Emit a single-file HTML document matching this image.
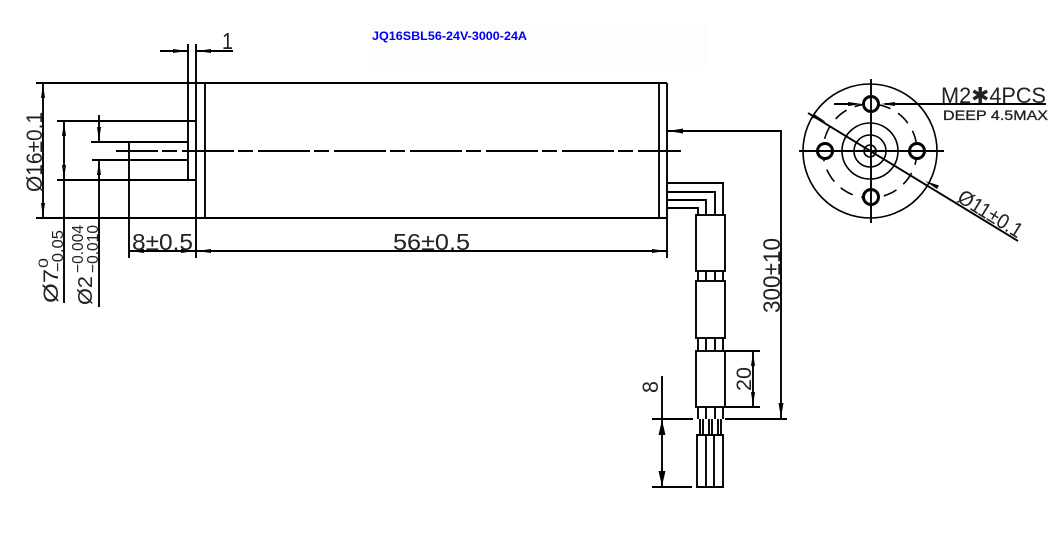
<!DOCTYPE html>
<html><head><meta charset="utf-8"><style>
html,body{margin:0;padding:0;background:#fff;width:1050px;height:537px;overflow:hidden}
svg{display:block}
.l{stroke:#000;stroke-width:1.900;fill:none}
.t{stroke:#000;stroke-width:1.600;fill:none}
.a{fill:#000;stroke:none}
text.c{font-family:"Liberation Sans","DejaVu Sans",sans-serif;fill:#222;font-weight:400}
</style></head><body>
<svg width="1050" height="537" viewBox="0 0 1050 537" xmlns="http://www.w3.org/2000/svg">
<rect x="370" y="24" width="337" height="41" fill="#fdfdfd"/>
<text x="372" y="40" font-family="'Liberation Sans',sans-serif" font-weight="700" font-size="12" fill="#0000f0" textLength="155" lengthAdjust="spacingAndGlyphs">JQ16SBL56-24V-3000-24A</text>

<!-- body -->
<path class="l" d="M36 83H667M36 218H667M188 44V180M196 44V258M205 83V218M659 83V218M667 83V258"/>
<path class="l" d="M57 121H196M57 180H196M91 142H188M92 160H188"/>
<path class="l" stroke-dasharray="52 4 15 5" stroke-dashoffset="10" d="M116 151H681"/>
<!-- left dims -->
<path class="l" d="M43 83V218M64 121V303M99 115V142M99 160V307M129 143V258"/>
<path class="a" d="M43 84l-2 14h4zM43 217l-2-14h4zM64 122l-2 14h4zM64 179l-2-14h4zM99 141l-2-14h4zM99 161l-2 14h4z"/>
<!-- top dim -->
<path class="l" d="M160 51H188M196 51H233"/>
<path class="a" d="M187 51l-14-2v4zM197 51l14-2v4z"/>
<!-- bottom dim -->
<path class="l" d="M129 251H667"/>
<path class="a" d="M130 251l14-2v4zM195 251l-14-2v4zM197 251l14-2v4zM666 251l-14-2v4z"/>
<!-- 300 dim -->
<path class="l" d="M667 131H781V419M725 419H787"/>
<path class="a" d="M668 131l15-2.500v5zM781 418l-2.500-15h5z"/>
<!-- wires -->
<path class="l" d="M667 183H723V215M667 192H715V215M667 200H706V215M667 208H698V215"/>
<rect class="l" x="696" y="215" width="29" height="56"/>
<rect class="l" x="696" y="281" width="29" height="57"/>
<rect class="l" x="696" y="351" width="29" height="56"/>
<path class="l" d="M698 271V281M706 271V281M715 271V281M723 271V281M698 338V351M706 338V351M715 338V351M723 338V351M698 407V419M706 407V419M715 407V419M723 407V419"/>
<path class="l" d="M700 419V435M703 419V435M709 419V435M712 419V435M718 419V435M721 419V435"/>
<path class="l" d="M697 435H723V487H697ZM706 435V487M714 435V487"/>
<!-- 20 dim -->
<path class="l" d="M725 351H760M725 407H760M753 351V407"/>
<path class="a" d="M753 352l-2 14h4zM753 406l-2-14h4z"/>
<!-- 8 dim -->
<path class="l" d="M652 419H693M652 487H692M662 376V487"/>
<path class="a" d="M662 420l-3.500 15h7zM662 486l-3.500-15h7z"/>

<!-- end view -->
<g class="t">
<circle cx="870" cy="151" r="67"/>
<circle cx="870" cy="151" r="28"/>
<circle cx="870" cy="151" r="16"/>
<circle cx="870" cy="151" r="6"/>
<circle cx="870" cy="151" r="47" stroke-dasharray="14 8.830"/>
</g>
<g fill="#fff" stroke="#000" stroke-width="3">
<circle cx="871" cy="104" r="7.500"/>
<circle cx="825" cy="151" r="7.500"/>
<circle cx="917" cy="151" r="7.500"/>
<circle cx="871" cy="197" r="7.500"/>
</g>
<path class="l" d="M799 151H944M871 79V223M834 104H853M885 104H1046M808 113L1018 241"/>
<path class="a" d="M862 104l-14-2v4zM881 104l14-2v4zM826 122l-12-8-2 3.500zM925 181l12 8 2-3.500z"/>

<!-- labels -->
<text class="c" x="222" y="49" font-size="23" textLength="11" lengthAdjust="spacingAndGlyphs">1</text>
<text class="c" x="132" y="250" font-size="23" textLength="61" lengthAdjust="spacingAndGlyphs">8±0.5</text>
<text class="c" x="393" y="250" font-size="23" textLength="77" lengthAdjust="spacingAndGlyphs">56±0.5</text>
<text class="c" transform="translate(42,192) rotate(-90)" font-size="22" textLength="80" lengthAdjust="spacingAndGlyphs">Ø16±0.1</text>
<text class="c" transform="translate(58,303) rotate(-90)" font-size="21" textLength="34" lengthAdjust="spacingAndGlyphs">Ø7</text>
<text class="c" transform="translate(48,268) rotate(-90)" font-size="14" textLength="10" lengthAdjust="spacingAndGlyphs">0</text>
<text class="c" transform="translate(63,272) rotate(-90)" font-size="16" textLength="42" lengthAdjust="spacingAndGlyphs">−0.05</text>
<text class="c" transform="translate(92,305) rotate(-90)" font-size="20" textLength="29" lengthAdjust="spacingAndGlyphs">Ø2</text>
<text class="c" transform="translate(83,273) rotate(-90)" font-size="16" textLength="48" lengthAdjust="spacingAndGlyphs">−0.004</text>
<text class="c" transform="translate(98,273) rotate(-90)" font-size="16" textLength="48" lengthAdjust="spacingAndGlyphs">−0.010</text>
<text class="c" transform="translate(780,313) rotate(-90)" font-size="24" textLength="75" lengthAdjust="spacingAndGlyphs">300±10</text>
<text class="c" transform="translate(751,391) rotate(-90)" font-size="21" textLength="24" lengthAdjust="spacingAndGlyphs">20</text>
<text class="c" transform="translate(658,393) rotate(-90)" font-size="22" textLength="12" lengthAdjust="spacingAndGlyphs">8</text>
<text class="c" x="941" y="103" font-size="22" textLength="105" lengthAdjust="spacingAndGlyphs">M2✱4PCS</text>
<text class="c" x="943" y="120" font-size="14" textLength="105" lengthAdjust="spacingAndGlyphs" stroke="#222" stroke-width=".3">DEEP 4.5MAX</text>
<text class="c" transform="translate(956,201) rotate(31.400)" font-size="21" textLength="72" lengthAdjust="spacingAndGlyphs">Ø11±0.1</text>
</svg>
</body></html>
